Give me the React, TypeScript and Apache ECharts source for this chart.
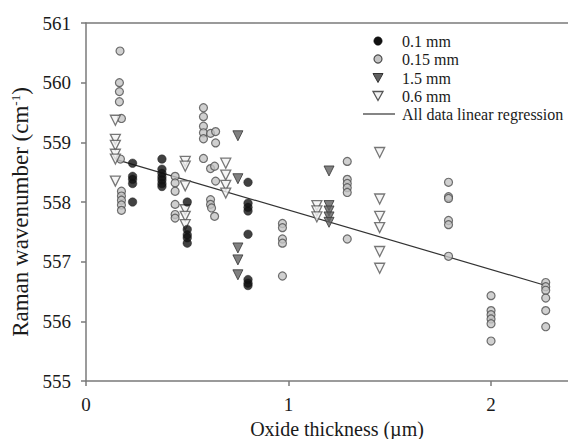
import React, { useEffect, useRef } from "react";
import * as echarts from "echarts";

// Raman peak position vs. oxide thickness, four sample sizes
const series01mm: [number, number][] = [
  [0.23, 558.65], [0.23, 558.43], [0.23, 558.38], [0.23, 558.31], [0.23, 558.0],
  [0.375, 558.72], [0.375, 558.55], [0.375, 558.48], [0.375, 558.42], [0.375, 558.37], [0.375, 558.31], [0.375, 558.26],
  [0.5, 558.0], [0.5, 557.54], [0.5, 557.45], [0.5, 557.4], [0.5, 557.31],
  [0.8, 558.33], [0.8, 557.98], [0.8, 557.91], [0.8, 557.85], [0.8, 557.46], [0.8, 556.7], [0.8, 556.64], [0.8, 556.6],
];

const series015mm: [number, number][] = [
  [0.168, 560.53], [0.165, 560.0], [0.165, 559.85], [0.165, 559.68], [0.175, 559.4], [0.17, 558.72],
  [0.175, 558.18], [0.175, 558.1], [0.175, 558.03], [0.175, 557.95], [0.175, 557.86],
  [0.44, 558.43], [0.44, 558.32], [0.44, 558.18], [0.44, 557.96], [0.44, 557.79], [0.44, 557.73],
  [0.58, 559.58], [0.58, 559.43], [0.58, 559.27], [0.58, 559.16], [0.58, 559.06], [0.58, 558.73],
  [0.615, 559.15], [0.64, 559.18], [0.64, 558.99], [0.615, 558.56], [0.635, 558.6], [0.64, 558.35],
  [0.615, 558.04], [0.615, 557.96], [0.62, 557.9], [0.635, 557.76],
  [0.97, 557.64], [0.97, 557.57], [0.97, 557.38], [0.97, 557.31], [0.97, 556.76],
  [1.29, 558.68], [1.29, 558.38], [1.29, 558.31], [1.29, 558.24], [1.29, 558.16], [1.29, 557.38],
  [1.79, 558.33], [1.79, 558.09], [1.79, 558.06], [1.79, 557.69], [1.79, 557.62], [1.79, 557.09],
  [2.0, 556.43], [2.0, 556.18], [2.0, 556.11], [2.0, 556.04], [2.0, 555.96], [2.0, 555.67],
  [2.27, 556.65], [2.27, 556.58], [2.27, 556.52], [2.27, 556.39], [2.27, 556.18], [2.27, 555.91],
];

const series15mm: [number, number][] = [
  [0.75, 559.11], [0.75, 558.39], [0.75, 557.23], [0.75, 557.03], [0.75, 556.78],
  [1.2, 558.52], [1.2, 557.94], [1.2, 557.85], [1.2, 557.75], [1.2, 557.66],
];

const series06mm: [number, number][] = [
  [0.145, 559.37], [0.145, 559.05], [0.145, 558.95], [0.145, 558.8], [0.145, 558.72], [0.145, 558.35],
  [0.49, 558.68], [0.49, 558.6], [0.49, 558.27], [0.49, 557.87], [0.49, 557.76], [0.49, 557.62],
  [0.69, 558.65], [0.69, 558.45], [0.69, 558.28], [0.69, 558.15],
  [1.14, 557.94], [1.14, 557.85], [1.14, 557.75],
  [1.45, 558.83], [1.45, 558.05], [1.45, 557.76], [1.45, 557.57], [1.45, 557.17], [1.45, 556.89],
];

// Fitted line over all points, evaluated at the data range ends
const regressionX = [0.15, 2.27];
const regressionY = [558.71, 556.6];

const seriesNames = ["0.1 mm", "0.15 mm", "1.5 mm", "0.6 mm", "All data linear regression"];

const FONT = "'Liberation Serif', 'Times New Roman', serif";
const AXIS_GRAY = "#7a7a7a";
const TEXT = "#1a1a1a";

const STYLE_01 = { fill: "#111111", stroke: "#111111", lineWidth: 0.5 };
const STYLE_015 = { fill: "#c4c4c4", stroke: "#4d4d4d", lineWidth: 1.2 };
const STYLE_15 = { fill: "#616161", stroke: "#333333", lineWidth: 1 };
const STYLE_06 = { fill: "#f2f2f2", stroke: "#555555", lineWidth: 1.3 };
const LINE_COLOR = "#333333";

// Hand-built legend block (downward triangles and a plain line key)
function legendGraphics() {
  const sx = 378;
  const tx = 402;
  const rows = [41, 59, 78, 96, 114];
  const tri = (cy: number, style: object) => ({
    type: "polygon",
    shape: { points: [[sx - 5, cy - 4.5], [sx + 5, cy - 4.5], [sx, cy + 4.5]] },
    style,
  });
  const keys: any[] = [
    { type: "circle", shape: { cx: sx, cy: rows[0], r: 4.2 }, style: STYLE_01 },
    { type: "circle", shape: { cx: sx, cy: rows[1], r: 4 }, style: STYLE_015 },
    tri(rows[2], STYLE_15),
    tri(rows[3], STYLE_06),
    { type: "line", shape: { x1: 363, y1: rows[4], x2: 395, y2: rows[4] }, style: { stroke: LINE_COLOR, lineWidth: 1.2 } },
  ];
  const labels = seriesNames.map((name, i) => ({
    type: "text",
    style: {
      text: name,
      x: tx,
      y: rows[i],
      verticalAlign: "middle",
      font: `16px ${FONT}`,
      fill: TEXT,
    },
  }));
  return [...keys, ...labels];
}

export default function App() {
  const ref = useRef<HTMLDivElement>(null);

  useEffect(() => {
    if (!ref.current) return;
    const chart = echarts.init(ref.current, undefined, { renderer: "svg" });

    const triangleDown = {
      symbol: "triangle",
      symbolRotate: 180,
      symbolSize: 10,
    };

    chart.setOption({
      animation: false,
      backgroundColor: "#ffffff",
      textStyle: { fontFamily: FONT },
      grid: { left: 86, right: 0, top: 23, bottom: 58, containLabel: false, outerBoundsMode: "none" },
      graphic: legendGraphics(),
      xAxis: [
        {
          type: "value",
          min: 0,
          max: 2.38,
          interval: 1,
          name: "Oxide thickness (\u00b5m)",
          nameLocation: "middle",
          nameGap: 35,
          nameTextStyle: { fontFamily: FONT, fontSize: 20, color: TEXT, padding: [0, 0, 0, 20] },
          axisLine: { lineStyle: { color: AXIS_GRAY, width: 1.5 } },
          axisTick: { show: true, length: 5, lineStyle: { color: AXIS_GRAY, width: 1.5 } },
          axisLabel: {
            showMaxLabel: false,
            margin: 14,
            fontFamily: FONT,
            fontSize: 19,
            color: TEXT,
            formatter: (v: number) => (Number.isInteger(v) ? String(v) : ""),
          },
          splitLine: { show: false },
        },
        {
          type: "value",
          position: "top",
          min: 0,
          max: 2.38,
          axisLine: { show: true, onZero: false, lineStyle: { color: AXIS_GRAY, width: 1.5 } },
          axisTick: { show: false },
          axisLabel: { show: false },
          splitLine: { show: false },
        },
      ],
      yAxis: {
        type: "value",
        min: 555,
        max: 561,
        interval: 1,
        name: "{t|Raman wavenumber (cm}{s|-1}{t|)}",
        nameLocation: "middle",
        nameRotate: 90,
        nameGap: 52,
        nameTextStyle: {
          padding: [0, 0, 0, -20],
          rich: {
            t: { fontFamily: FONT, fontSize: 23, color: TEXT },
            s: { fontFamily: FONT, fontSize: 13, color: TEXT, verticalAlign: "top", padding: [0, 0, 10, 0] },
          },
        },
        axisLine: { show: true, lineStyle: { color: AXIS_GRAY, width: 1.5 } },
        axisTick: { show: true, length: 5, lineStyle: { color: AXIS_GRAY, width: 1.5 } },
        axisLabel: { margin: 15, fontFamily: FONT, fontSize: 19, color: TEXT },
        splitLine: { show: false },
      },
      series: [
        {
          name: seriesNames[4],
          type: "line",
          data: regressionX.map((x, i) => [x, regressionY[i]]),
          symbol: "none",
          itemStyle: { color: LINE_COLOR },
          lineStyle: { color: LINE_COLOR, width: 1.2 },
          z: 1,
        },
        {
          name: seriesNames[1],
          type: "scatter",
          data: series015mm,
          symbol: "circle",
          symbolSize: 8,
          itemStyle: { color: STYLE_015.fill, borderColor: STYLE_015.stroke, borderWidth: STYLE_015.lineWidth },
          z: 2,
        },
        {
          name: seriesNames[3],
          type: "scatter",
          data: series06mm,
          ...triangleDown,
          itemStyle: { color: STYLE_06.fill, borderColor: STYLE_06.stroke, borderWidth: STYLE_06.lineWidth },
          z: 3,
        },
        {
          name: seriesNames[2],
          type: "scatter",
          data: series15mm,
          ...triangleDown,
          itemStyle: { color: STYLE_15.fill, borderColor: STYLE_15.stroke, borderWidth: STYLE_15.lineWidth },
          z: 4,
        },
        {
          name: seriesNames[0],
          type: "scatter",
          data: series01mm,
          symbol: "circle",
          symbolSize: 8.5,
          itemStyle: { color: STYLE_01.fill, borderColor: STYLE_01.stroke, borderWidth: STYLE_01.lineWidth },
          z: 5,
        },
      ],
    });

    return () => chart.dispose();
  }, []);

  return (
    <div
      ref={ref}
      style={{ position: "fixed", left: 0, top: 0, width: 568, height: 439, background: "#fff" }}
    />
  );
}
